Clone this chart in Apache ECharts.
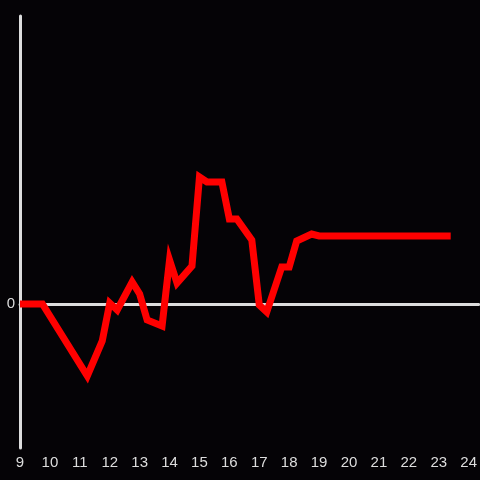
<!DOCTYPE html>
<html>
<head>
<meta charset="utf-8">
<script src="https://cdn.jsdelivr.net/npm/echarts@6/dist/echarts.min.js"></script>
<style>
  html, body { margin: 0; padding: 0; background: #050306; }
  #chart { width: 480px; height: 480px; }
</style>
</head>
<body>
<div id="chart"></div>
<script>
// hours of day (decimal) and values
const hours = [9, 9.75, 11.25, 11.75, 12, 12.25, 12.75, 13, 13.25, 13.75, 14, 14.25, 14.75,
  15, 15.25, 15.75, 16, 16.25, 16.75, 17, 17.25, 17.75, 18, 18.25, 18.75, 19, 23.4]
const values = [0, 0, -72, -37, 1, -6, 22, 10, -16, -22, 44, 21, 38,
  127, 122, 122, 85, 85, 64, -1, -8, 37, 37, 63, 70, 68, 68]
const hourTicks = [9, 10, 11, 12, 13, 14, 15, 16, 17, 18, 19, 20, 21, 22, 23, 24]
const valueTicks = [0]

const xMin = 9
const xMax = 24.333
const yMin = -144
const yMax = 288

const labelStyle = {
  color: '#dddddd',
  fontFamily: 'Liberation Sans',
  fontSize: 15
}

const chartInstance = echarts.init(document.getElementById('chart'))

chartInstance.setOption({
  backgroundColor: '#050306',
  animation: false,
  grid: {
    left: 20,
    right: 0,
    top: 16,
    bottom: 32
  },
  xAxis: [
    {
      // zero line
      type: 'value',
      min: xMin,
      max: xMax,
      position: 'bottom',
      axisLine: { show: true, onZero: true, lineStyle: { color: '#dddddd', width: 3 } },
      axisTick: { show: false },
      axisLabel: { show: false },
      splitLine: { show: false }
    },
    {
      type: 'value',
      min: xMin,
      max: xMax,
      position: 'bottom',
      axisLine: { show: false, onZero: false },
      axisTick: { show: false },
      splitLine: { show: false },
      axisLabel: {
        ...labelStyle,
        margin: 7,
        customValues: hourTicks,
        formatter: v => String(v)
      }
    }
  ],
  yAxis: {
    type: 'value',
    min: yMin,
    max: yMax,
    axisLine: { show: true, onZero: false, lineStyle: { color: '#dddddd', width: 3 } },
    axisTick: { show: false },
    splitLine: { show: false },
    axisLabel: {
      ...labelStyle,
      margin: 5,
      customValues: valueTicks,
      formatter: v => String(v)
    }
  },
  series: [
    {
      type: 'line',
      xAxisIndex: 0,
      symbol: 'none',
      z: 5,
      lineStyle: { color: '#ff0000', width: 7, join: 'miter' },
      data: hours.map((h, i) => [h, values[i]])
    }
  ]
})
</script>
</body>
</html>
